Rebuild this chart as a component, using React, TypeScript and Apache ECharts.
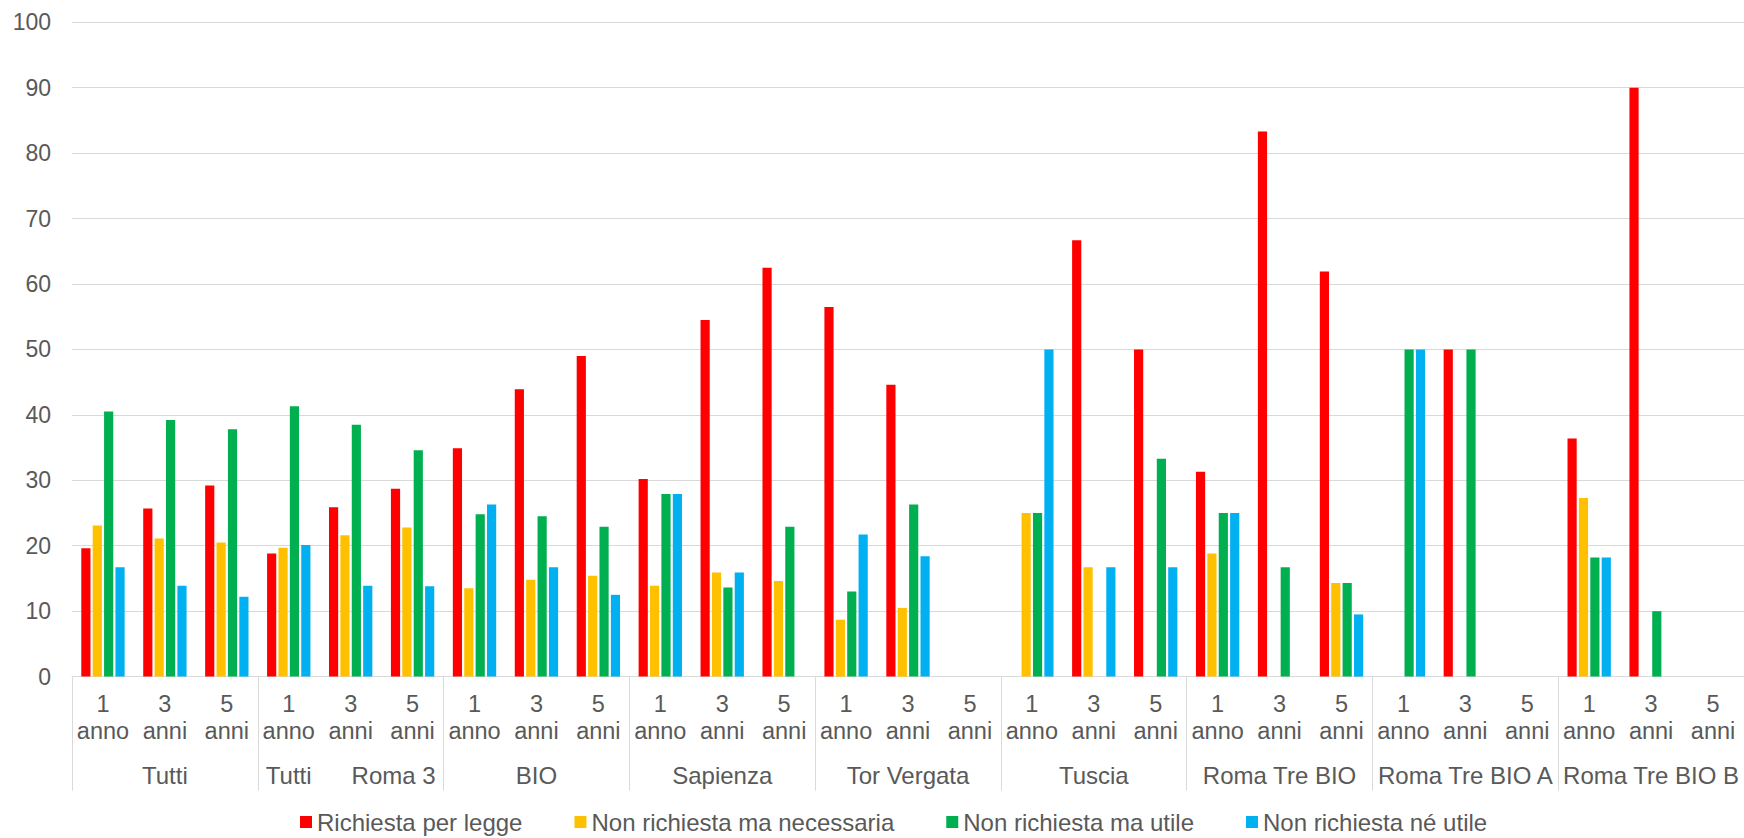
import React, { useEffect, useRef } from "react";
import * as echarts from "echarts";

const groups = [
  "Tutti",
  "Tutti Roma 3",
  "BIO",
  "Sapienza",
  "Tor Vergata",
  "Tuscia",
  "Roma Tre BIO",
  "Roma Tre BIO A",
  "Roma Tre BIO B",
];
const periods = ["1 anno", "3 anni", "5 anni"];

const seriesNames = [
  "Richiesta per legge",
  "Non richiesta ma necessaria",
  "Non richiesta ma utile",
  "Non richiesta né utile",
];

const richiestaPerLegge = [
  19.6, 25.7, 29.2, 18.8, 25.9, 28.7, 34.9, 43.9, 49.0, 30.2, 54.5, 62.5, 56.5, 44.6, null,
  null, 66.7, 50.0, 31.3, 83.3, 61.9, null, 50.0, null, 36.4, 90.0, null,
];
const nonRichiestaMaNecessaria = [
  23.1, 21.1, 20.5, 19.7, 21.6, 22.8, 13.5, 14.8, 15.4, 13.9, 15.9, 14.6, 8.7, 10.5, null,
  25.0, 16.7, null, 18.8, null, 14.3, null, null, null, 27.3, null, null,
];
const nonRichiestaMaUtile = [
  40.5, 39.2, 37.8, 41.3, 38.5, 34.6, 24.8, 24.5, 22.9, 27.9, 13.6, 22.9, 13.0, 26.3, null,
  25.0, null, 33.3, 25.0, 16.7, 14.3, 50.0, 50.0, null, 18.2, 10.0, null,
];
const nonRichiestaNeUtile = [
  16.7, 13.9, 12.2, 20.1, 13.9, 13.8, 26.3, 16.7, 12.5, 27.9, 15.9, null, 21.7, 18.4, null,
  50.0, 16.7, 16.7, 25.0, null, 9.5, 50.0, null, null, 18.2, null, null,
];

const colors = ["#FF0000", "#FFC000", "#00B050", "#00B0F0"];
const FONT = "'Liberation Sans', Arial, sans-serif";
const TEXT = "#595959";
const GRID = "#d9d9d9";

export default function App() {
  const ref = useRef<HTMLDivElement>(null);
  useEffect(() => {
    document.body.style.margin = "0";
    const chart = echarts.init(ref.current as HTMLDivElement, null, { renderer: "svg" });
    const categories: string[] = [];
    groups.forEach(() => periods.forEach((p) => categories.push(p)));
    const values = [richiestaPerLegge, nonRichiestaMaNecessaria, nonRichiestaMaUtile, nonRichiestaNeUtile];
    chart.setOption({
      animation: false,
      textStyle: { fontFamily: FONT },
      grid: { left: 72, right: -1, top: 22.3, bottom: 161.4 },
      legend: {
        data: seriesNames,
        top: 808,
        left: 300,
        icon: "rect",
        itemWidth: 12,
        itemHeight: 12,
        itemGap: 52,
        padding: 0,
        textStyle: { fontSize: 24, color: TEXT, fontFamily: FONT, lineHeight: 28 },
      },
      xAxis: [
        {
          type: "category",
          data: categories,
          position: "bottom",
          axisLine: { show: true, lineStyle: { color: GRID, width: 1 } },
          axisTick: { show: false },
          axisLabel: {
            interval: 0,
            margin: 14,
            lineHeight: 27,
            fontSize: 23.5,
            color: TEXT,
            fontFamily: FONT,
            formatter: (v: string) => v.replace(" ", "\n"),
          },
        },
        {
          type: "category",
          data: groups,
          position: "bottom",
          axisLine: { show: false },
          axisTick: { show: true, interval: 0, length: 114, lineStyle: { color: GRID, width: 1 } },
          axisLabel: {
            interval: 0,
            margin: 87,
            fontSize: 24,
            color: TEXT,
            fontFamily: FONT,
            formatter: (v: string) =>
              v === "Tutti Roma 3" ? "Tutti\u00a0\u00a0\u00a0\u00a0\u00a0\u00a0Roma 3" : v,
          },
        },
      ],
      yAxis: {
        type: "value",
        min: 0,
        max: 100,
        interval: 10,
        axisLine: { show: false },
        axisTick: { show: false },
        splitLine: { lineStyle: { color: GRID, width: 1 } },
        axisLabel: { fontSize: 23, color: TEXT, margin: 21, fontFamily: FONT },
      },
      series: seriesNames.map((name, i) => ({
        name,
        type: "bar",
        xAxisIndex: 0,
        data: values[i],
        barCategoryGap: "30%",
        barGap: "24%",
        itemStyle: { color: colors[i] },
      })),
    });
    return () => chart.dispose();
  }, []);
  return <div ref={ref} style={{ width: 1744, height: 838 }} />;
}
